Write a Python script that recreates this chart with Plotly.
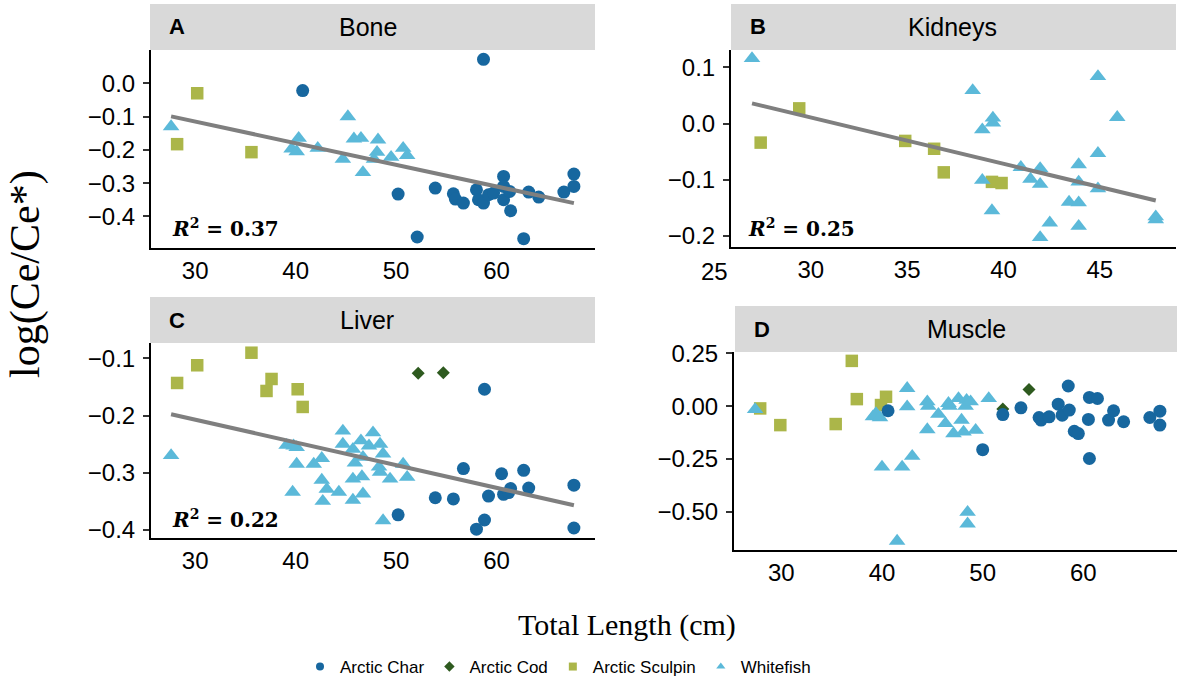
import plotly.graph_objects as go

# ---------------- data ----------------
species = ["Arctic Char", "Arctic Cod", "Arctic Sculpin", "Whitefish"]

# Bone
bone_char_x = [58.7, 40.7, 50.2, 53.9, 52.1, 55.7, 55.9, 56.7, 58.0, 58.2, 58.7, 59.2,
               59.7, 60.7, 60.7, 60.7, 61.3, 61.4, 62.7, 63.2, 64.2, 66.7, 67.7, 67.7]
bone_char_y = [0.072, -0.022, -0.333, -0.315, -0.462, -0.332, -0.348, -0.360, -0.320, -0.350,
               -0.360, -0.335, -0.330, -0.280, -0.310, -0.350, -0.325, -0.383, -0.467, -0.327,
               -0.342, -0.327, -0.273, -0.310]
bone_sculpin_x = [30.2, 28.2, 35.6]
bone_sculpin_y = [-0.030, -0.183, -0.207]
bone_white_x = [27.6, 45.2, 40.3, 39.6, 40.1, 42.2, 44.7, 45.8, 46.5, 46.7, 48.2, 48.1,
                47.8, 49.5, 50.7, 51.1]
bone_white_y = [-0.130, -0.100, -0.165, -0.197, -0.205, -0.195, -0.228, -0.167, -0.165,
                -0.268, -0.170, -0.207, -0.228, -0.222, -0.195, -0.217]
bone_fit = (0.080, -0.0065)      # intercept, slope
bone_r2 = "0.37"

# Kidneys
kid_white_x = [26.95, 38.4, 44.9, 39.45, 39.45, 38.9, 45.9, 44.9, 38.9, 39.4, 40.9, 41.9,
               41.4, 41.9, 43.9, 43.9, 44.9, 43.4, 43.9, 42.4, 43.9, 41.9, 47.9, 47.9]
kid_white_y = [0.116, 0.059, 0.084, 0.010, 0.001, -0.011, 0.011, -0.053, -0.101, -0.155,
               -0.078, -0.080, -0.099, -0.108, -0.073, -0.104, -0.116, -0.140, -0.141,
               -0.177, -0.183, -0.203, -0.166, -0.171]
kid_sculpin_x = [29.4, 27.4, 34.9, 36.4, 36.9, 39.4, 39.9]
kid_sculpin_y = [0.027, -0.034, -0.031, -0.045, -0.087, -0.104, -0.106]
kid_fit = (0.2586, -0.00826)
kid_r2 = "0.25"

# Liver
liv_sculpin_x = [28.2, 30.2, 35.6, 37.6, 37.1, 40.2, 40.7]
liv_sculpin_y = [-0.143, -0.112, -0.090, -0.136, -0.157, -0.154, -0.185]
liv_cod_x = [52.2, 54.7]
liv_cod_y = [-0.126, -0.125]
liv_char_x = [58.8, 56.7, 53.9, 55.7, 50.2, 60.5, 62.7, 61.4, 63.2, 59.2, 60.7, 61.2,
              58.8, 58.0, 67.7, 67.7]
liv_char_y = [-0.154, -0.293, -0.344, -0.346, -0.374, -0.302, -0.296, -0.328, -0.327,
              -0.341, -0.338, -0.335, -0.383, -0.399, -0.322, -0.397]
liv_white_x = [27.6, 44.7, 47.7, 39.1, 39.8, 40.1, 40.1, 39.7, 41.8, 42.6, 42.6, 43.1,
               42.7, 44.3, 44.7, 45.7, 46.5, 45.9, 46.7, 45.7, 46.6, 45.7, 46.7, 47.3,
               48.4, 48.7, 48.3, 48.4, 49.4, 50.7, 51.1, 48.7]
liv_white_y = [-0.270, -0.227, -0.230, -0.252, -0.253, -0.256, -0.285, -0.334, -0.285,
               -0.275, -0.313, -0.329, -0.350, -0.334, -0.250, -0.259, -0.244, -0.283,
               -0.273, -0.311, -0.307, -0.348, -0.337, -0.253, -0.250, -0.267, -0.290,
               -0.299, -0.311, -0.285, -0.308, -0.384]
liv_fit = (-0.0878, -0.00398)
liv_r2 = "0.22"

# Muscle
mus_sculpin_x = [37.0, 37.5, 40.4, 39.9, 27.9, 29.9, 35.4]
mus_sculpin_y = [0.214, 0.033, 0.044, 0.005, -0.011, -0.090, -0.085]
mus_cod_x = [54.6, 52.0]
mus_cod_y = [0.079, -0.014]
mus_char_x = [40.6, 50.0, 52.0, 53.8, 55.6, 55.8, 56.6, 57.5, 57.9, 58.5, 58.6, 59.1,
              59.5, 60.5, 60.6, 61.4, 60.6, 62.5, 63.0, 64.0, 66.6, 67.6, 67.6]
mus_char_y = [-0.022, -0.206, -0.040, -0.008, -0.054, -0.066, -0.051, 0.009, -0.043,
              0.095, -0.019, -0.119, -0.130, -0.063, 0.041, 0.036, -0.248, -0.066,
              -0.022, -0.074, -0.054, -0.024, -0.090]
mus_white_x = [27.4, 39.4, 39.1, 39.8, 42.5, 42.5, 44.5, 44.6, 44.5, 43.0, 40.0, 42.0,
               45.6, 46.3, 46.6, 46.7, 47.1, 47.6, 48.4, 48.3, 47.9, 48.1, 48.8, 49.3,
               50.6, 48.5, 48.5, 41.5]
mus_white_y = [-0.016, -0.035, -0.050, -0.054, 0.084, -0.003, 0.021, 0.000, -0.111,
               -0.237, -0.288, -0.288, -0.038, -0.082, 0.013, 0.000, -0.130, 0.036,
               0.028, 0.000, -0.066, -0.122, 0.021, -0.114, 0.036, -0.502, -0.557,
               -0.639]

# tick labels
bone_xticks = [30, 40, 50, 60]
bone_yticks = [0.0, -0.1, -0.2, -0.3, -0.4]
kid_xticks = [30, 35, 40, 45]
kid_extra_xtick = 25
kid_yticks = [0.1, 0.0, -0.1, -0.2]
liv_xticks = [30, 40, 50, 60]
liv_yticks = [-0.1, -0.2, -0.3, -0.4]
mus_xticks = [30, 40, 50, 60]
mus_yticks = [0.25, 0.0, -0.25, -0.50]

# ---------------- styling ----------------
W, H = 1177, 686
COLORS = {"Arctic Char": "#17679f", "Arctic Cod": "#2e5a1f",
          "Arctic Sculpin": "#abb649", "Whitefish": "#5bb9d9"}
SYMBOLS = {"Arctic Char": "circle", "Arctic Cod": "diamond",
           "Arctic Sculpin": "square", "Whitefish": "triangle-up"}
SIZES = {"Arctic Char": 13, "Arctic Cod": 10, "Arctic Sculpin": 12.5, "Whitefish": 14.5}
SANS = "Liberation Sans, Arial, sans-serif"
SERIF = "Liberation Serif, Times New Roman, serif"
TICK_FONT = dict(family=SANS, size=24, color="black")


def fx(p):
    return p / W


def fy(p):
    return 1 - p / H


panels = [
    dict(letter="A", title="Bone", ax="", box=(151, 595, 50, 248), xr=[25.6, 69.8],
         yr=[-0.495, 0.10], xt=bone_xticks, yt=bone_yticks, yfmt=".1f",
         strip=(150, 595, 4, 50), title_x=368,
         series={"Arctic Sculpin": (bone_sculpin_x, bone_sculpin_y),
                 "Whitefish": (bone_white_x, bone_white_y),
                 "Arctic Char": (bone_char_x, bone_char_y)},
         fit=bone_fit, r2=bone_r2, r2_pos=(170, 228)),
    dict(letter="B", title="Kidneys", ax="2", box=(731, 1176, 50, 247), xr=[25.86, 48.95],
         yr=[-0.220, 0.131], xt=kid_xticks, yt=kid_yticks, yfmt=".1f",
         strip=(731, 1176, 4, 50), title_x=952,
         series={"Arctic Sculpin": (kid_sculpin_x, kid_sculpin_y),
                 "Whitefish": (kid_white_x, kid_white_y)},
         fit=kid_fit, r2=kid_r2, r2_pos=(746, 228)),
    dict(letter="C", title="Liver", ax="3", box=(151, 595, 343, 538), xr=[25.6, 69.8],
         yr=[-0.4145, -0.073], xt=liv_xticks, yt=liv_yticks, yfmt=".1f",
         strip=(150, 595, 297, 343), title_x=367,
         series={"Arctic Sculpin": (liv_sculpin_x, liv_sculpin_y),
                 "Whitefish": (liv_white_x, liv_white_y),
                 "Arctic Cod": (liv_cod_x, liv_cod_y),
                 "Arctic Char": (liv_char_x, liv_char_y)},
         fit=liv_fit, r2=liv_r2, r2_pos=(170, 519)),
    dict(letter="D", title="Muscle", ax="4", box=(734, 1177, 352, 550), xr=[25.3, 69.3],
         yr=[-0.681, 0.256], xt=mus_xticks, yt=mus_yticks, yfmt=".2f",
         strip=(735, 1177, 306, 352), title_x=967,
         series={"Arctic Sculpin": (mus_sculpin_x, mus_sculpin_y),
                 "Whitefish": (mus_white_x, mus_white_y),
                 "Arctic Cod": (mus_cod_x, mus_cod_y),
                 "Arctic Char": (mus_char_x, mus_char_y)},
         fit=None, r2=None, r2_pos=None),
]

fig = go.Figure()
shapes, annotations, layout_axes = [], [], {}

for p in panels:
    xa, ya = "x" + p["ax"], "y" + p["ax"]
    for name, (xs, ys) in p["series"].items():
        fig.add_trace(go.Scatter(
            x=xs, y=ys, mode="markers", xaxis=xa, yaxis=ya, showlegend=False,
            legendgroup=name, name=name,
            marker=dict(symbol=SYMBOLS[name], size=SIZES[name], color=COLORS[name],
                        line=dict(width=0))))
    if p["fit"] is not None:
        b0, b1 = p["fit"]
        all_x = [v for xs, _ in p["series"].values() for v in xs]
        lx = [min(all_x), max(all_x)]
        fig.add_trace(go.Scatter(x=lx, y=[b0 + b1 * v for v in lx], mode="lines",
                                 xaxis=xa, yaxis=ya, showlegend=False, hoverinfo="skip",
                                 line=dict(color="#7f7f7f", width=4)))
        rx, ry = p["r2_pos"]
        annotations.append(dict(
            xref="paper", yref="paper", x=fx(rx), y=fy(ry), xanchor="left", yanchor="middle",
            text="<b><i>R</i><sup>2</sup> = " + p["r2"] + "</b>", showarrow=False,
            font=dict(family="DejaVu Serif, serif", size=20, color="black")))

    x0, x1, y0, y1 = p["box"]
    layout_axes["xaxis" + p["ax"]] = dict(
        domain=[fx(x0), fx(x1)], range=p["xr"], anchor=ya, tickvals=p["xt"],
        showline=True, linecolor="black", linewidth=2, ticks="", ticklen=0, showgrid=False,
        zeroline=False, automargin=False, tickfont=TICK_FONT)
    layout_axes["yaxis" + p["ax"]] = dict(
        domain=[fy(y1), fy(y0)], range=p["yr"], anchor=xa, tickvals=p["yt"],
        tickformat=p["yfmt"], showline=True, linecolor="black", linewidth=2,
        ticks="outside", ticklen=6, tickwidth=1.5, tickcolor="#333333", showgrid=False,
        zeroline=False, automargin=False, ticklabelstandoff=3, tickfont=TICK_FONT)

    sx0, sx1, sy0, sy1 = p["strip"]
    shapes.append(dict(type="rect", xref="paper", yref="paper", x0=fx(sx0), x1=fx(sx1),
                       y0=fy(sy1), y1=fy(sy0), fillcolor="#d9d9d9", line=dict(width=0),
                       layer="below"))
    sym = (sy0 + sy1) / 2
    annotations.append(dict(xref="paper", yref="paper", x=fx(sx0 + 17), y=fy(sym),
                            xanchor="left", yanchor="middle", showarrow=False,
                            text="<b>" + p["letter"] + "</b>",
                            font=dict(family=SANS, size=22, color="black")))
    annotations.append(dict(xref="paper", yref="paper", x=fx(p["title_x"]), y=fy(sym),
                            xanchor="center", yanchor="middle", showarrow=False,
                            text=p["title"], font=dict(family=SANS, size=25, color="black")))

# the "25" label of the Kidneys length axis sits just left of the axis line,
# placed through the axis range in domain units
kr = panels[1]["xr"]
annotations.append(dict(xref="x2 domain", yref="paper",
                        x=(kid_extra_xtick - kr[0]) / (kr[1] - kr[0]), y=fy(271),
                        xanchor="center", yanchor="middle", showarrow=False,
                        text=str(kid_extra_xtick), font=TICK_FONT))

# shared axis titles
annotations.append(dict(xref="paper", yref="paper", x=fx(26), y=fy(274), textangle=-90,
                        xanchor="center", yanchor="middle", showarrow=False,
                        text="log(Ce/Ce*)", font=dict(family=SERIF, size=42, color="black")))
annotations.append(dict(xref="paper", yref="paper", x=fx(627), y=fy(625),
                        xanchor="center", yanchor="middle", showarrow=False,
                        text="Total Length (cm)", font=dict(family=SERIF, size=30, color="black")))

# legend entries
for i, name in enumerate(species):
    fig.add_trace(go.Scatter(x=[None], y=[None], mode="markers", name=name,
                             legendgroup=name, showlegend=True, legendrank=i + 1,
                             marker=dict(symbol=SYMBOLS[name], size=8, color=COLORS[name])))

fig.update_layout(
    width=W, height=H, margin=dict(l=0, r=0, t=0, b=0, autoexpand=False),
    paper_bgcolor="white", plot_bgcolor="white",
    shapes=shapes, annotations=annotations,
    legend=dict(orientation="h", x=fx(300), y=fy(667), xanchor="left", yanchor="middle",
                font=dict(family=SANS, size=17, color="black"), bgcolor="rgba(0,0,0,0)",
                tracegroupgap=0, itemsizing="trace"),
    **layout_axes,
)

fig.write_html("out.html")
